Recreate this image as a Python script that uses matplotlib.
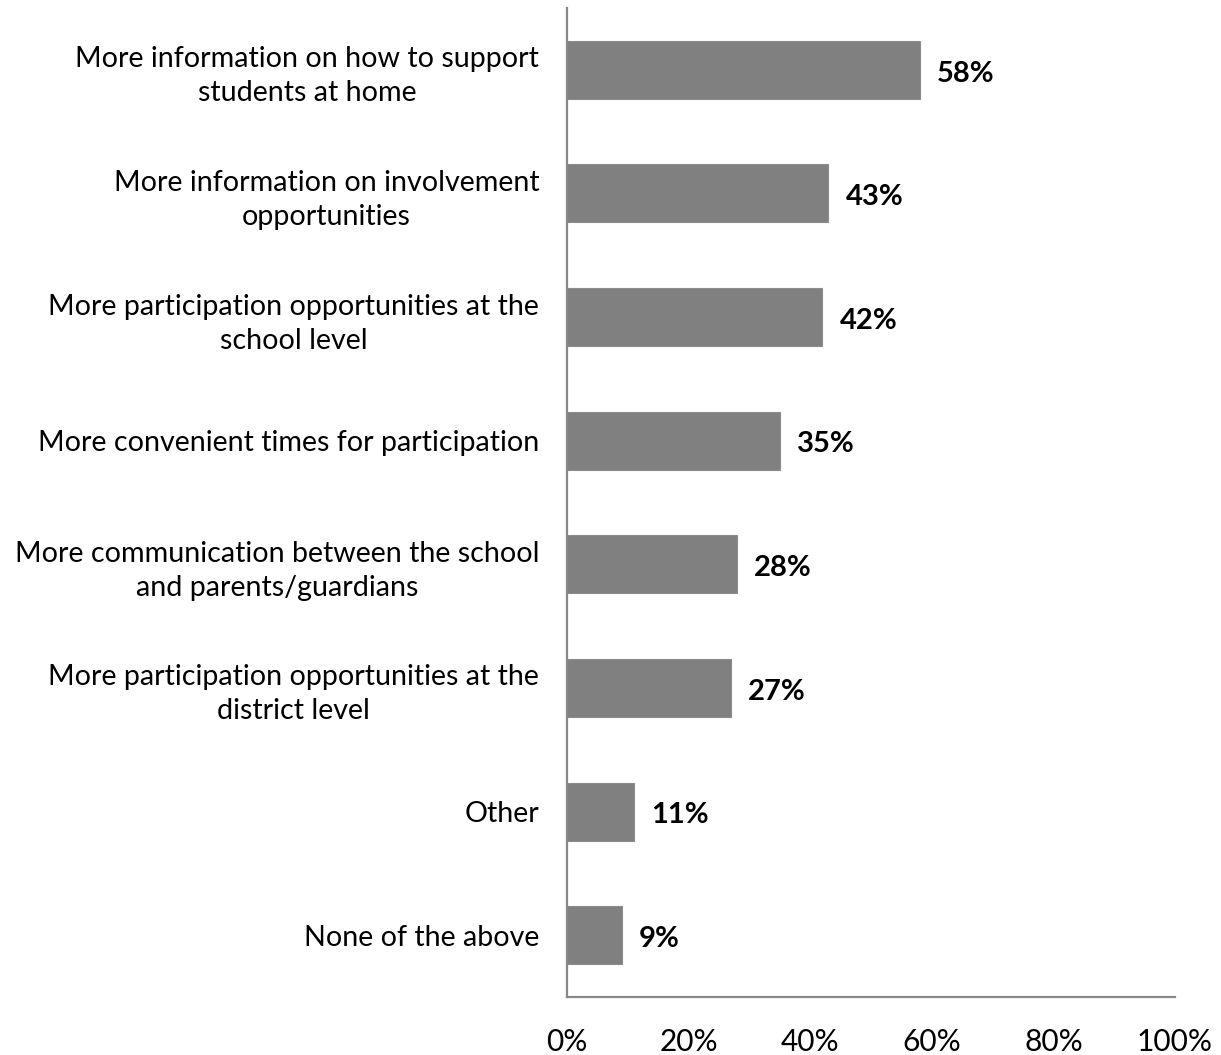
import matplotlib.pyplot as plt

# Survey responses
categories = [
    "More information on how to support\nstudents at home",
    "More information on involvement\nopportunities",
    "More participation opportunities at the\nschool level",
    "More convenient times for participation",
    "More communication between the school\nand parents/guardians",
    "More participation opportunities at the\ndistrict level",
    "Other",
    "None of the above",
]
values = [58, 43, 42, 35, 28, 27, 11, 9]
xticks = [0, 20, 40, 60, 80, 100]
xtick_labels = ["0%", "20%", "40%", "60%", "80%", "100%"]

plt.rcParams["font.family"] = ["Lato", "DejaVu Sans"]

fig = plt.figure(figsize=(12.21, 10.55), dpi=100, facecolor="white")
ax = fig.add_axes([567 / 1221, 58 / 1055, 608 / 1221, 989 / 1055])

pos = list(range(len(categories)))
ax.barh(pos, values, height=0.47, color="#808080", edgecolor="#8c8c8c", linewidth=0.8)

for p, v in zip(pos, values):
    ax.text(v + 2.8, p + 0.03, f"{v}%", va="center", ha="left",
            fontsize=21, fontweight="bold", color="black")

ax.set_xlim(0, 100)
ax.set_ylim(len(categories) - 0.5, -0.5)
ax.set_yticks(pos)
ax.set_yticklabels(categories, fontsize=20.6, linespacing=1.38)
for lbl in ax.get_yticklabels():
    lbl.set_multialignment("center")
ax.set_xticks(xticks)
ax.set_xticklabels(xtick_labels, fontsize=21.5)
ax.tick_params(axis="both", length=0)
ax.tick_params(axis="y", pad=20)
ax.tick_params(axis="x", pad=22)

for side in ["top", "right"]:
    ax.spines[side].set_visible(False)
for side in ["left", "bottom"]:
    ax.spines[side].set_color("#888888")
    ax.spines[side].set_linewidth(1.6)

fig.savefig("out.png", dpi=100, facecolor="white")
